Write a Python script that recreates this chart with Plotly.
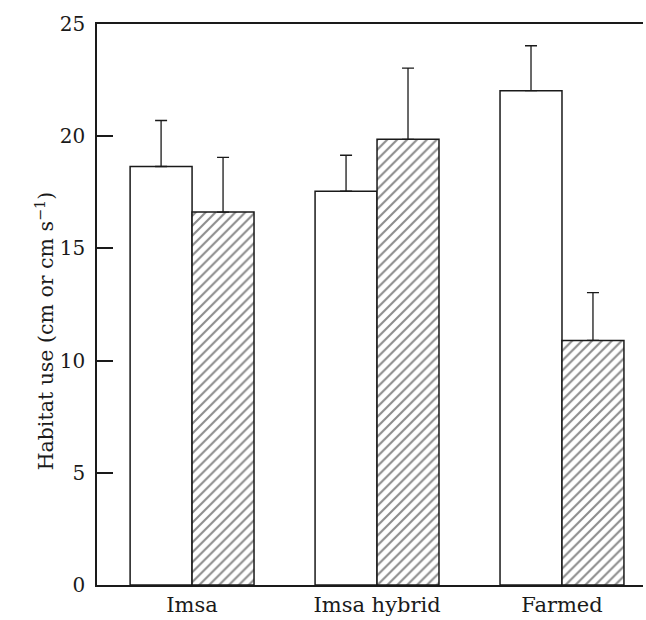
import plotly.graph_objects as go

categories = ["Imsa", "Imsa hybrid", "Farmed"]
open_values = [18.65, 17.55, 22.03]
open_errors = [2.05, 1.6, 2.0]
hatched_values = [16.62, 19.86, 10.9]
hatched_errors = [2.44, 3.17, 2.13]
y_ticks = [0, 5, 10, 15, 20, 25]

FONT = "DejaVu Serif"
INK = "#1a1a1a"

fig = go.Figure()
fig.add_trace(go.Bar(
    x=categories, y=open_values,
    marker=dict(color="white", line=dict(color=INK, width=1.5)),
    error_y=dict(type="data", symmetric=False, array=open_errors,
                 arrayminus=[0] * len(open_errors), color=INK, thickness=1.3, width=6),
    showlegend=False,
))
fig.add_trace(go.Bar(
    x=categories, y=hatched_values,
    marker=dict(color="white", line=dict(color=INK, width=1.5),
                pattern=dict(shape="/", fgcolor=INK, bgcolor="white", size=7, solidity=0.3)),
    error_y=dict(type="data", symmetric=False, array=hatched_errors,
                 arrayminus=[0] * len(hatched_errors), color=INK, thickness=1.3, width=6),
    showlegend=False,
))

fig.update_layout(
    width=646, height=620,
    margin=dict(l=97, r=3, t=24, b=32),
    paper_bgcolor="white", plot_bgcolor="white",
    barmode="group", bargap=0.33, bargroupgap=0,
    font=dict(family=FONT, color=INK, size=20),
)
fig.update_xaxes(
    type="category", range=[-0.514, 2.438],
    showline=True, mirror=True, linecolor=INK, linewidth=1.5,
    ticks="", showgrid=False, zeroline=False,
    tickfont=dict(family=FONT, size=21, color=INK),
)
fig.update_yaxes(
    range=[0, 25], tickvals=y_ticks,
    showline=True, mirror=False, linecolor=INK, linewidth=1.5,
    ticks="inside", ticklen=16, tickwidth=1.5, tickcolor=INK,
    showgrid=False, zeroline=False,
    tickfont=dict(family=FONT, size=20, color=INK),
    ticklabelstandoff=6,
)
fig.add_annotation(
    text="Habitat use (cm or cm s<sup>−1</sup>)",
    xref="paper", yref="paper", x=(45 - 97) / 546, y=(588 - 333) / 564,
    textangle=-90, showarrow=False, xanchor="center", yanchor="middle",
    font=dict(family=FONT, size=20.5, color=INK),
)

fig.write_html("out.html")
